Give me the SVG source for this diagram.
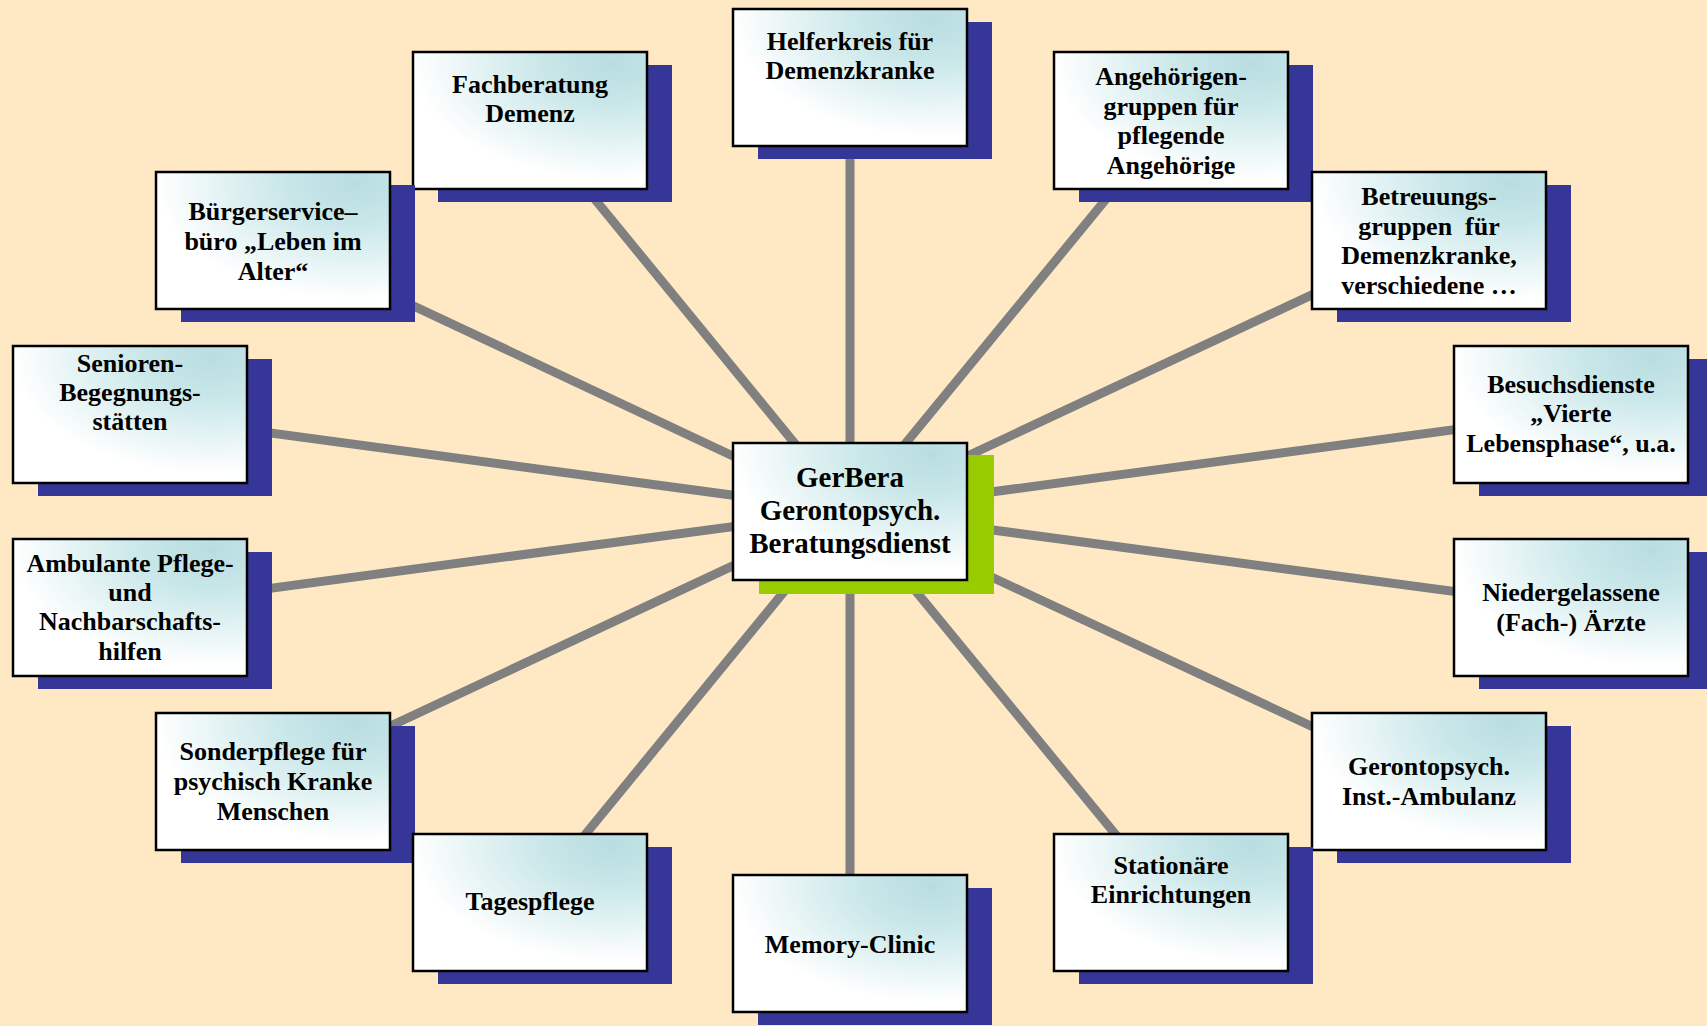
<svg xmlns="http://www.w3.org/2000/svg" width="1707" height="1026" viewBox="0 0 1707 1026">
<defs>
<radialGradient id="g" cx="0.85" cy="0.08" r="0.85" fx="0.85" fy="0.08">
<stop offset="0" stop-color="#b8dde1"/>
<stop offset="0.35" stop-color="#c9e7e9"/>
<stop offset="1" stop-color="#ffffff"/>
</radialGradient>
</defs>
<style>
.sh{fill:#363699}
.shc{fill:#99cc00}
.bx{fill:url(#g);stroke:#000;stroke-width:2.5}
.t{font-family:"Liberation Serif","Times New Roman",serif;font-weight:bold;font-size:26px;fill:#000;text-anchor:middle;white-space:pre}
.tc{font-size:29px}
.ln{stroke:#808080;stroke-width:9;fill:none}
</style>
<rect x="0" y="0" width="1707" height="1026" fill="#ffe9c4"/>
<g id="connectors">
<line class="ln" x1="850" y1="511" x2="530" y2="120"/>
<line class="ln" x1="850" y1="511" x2="850" y2="77"/>
<line class="ln" x1="850" y1="511" x2="1171" y2="120"/>
<line class="ln" x1="850" y1="511" x2="273" y2="240"/>
<line class="ln" x1="850" y1="511" x2="1429" y2="240"/>
<line class="ln" x1="850" y1="511" x2="130" y2="414"/>
<line class="ln" x1="850" y1="511" x2="1571" y2="414"/>
<line class="ln" x1="850" y1="511" x2="130" y2="607"/>
<line class="ln" x1="850" y1="511" x2="1571" y2="607"/>
<line class="ln" x1="850" y1="511" x2="273" y2="781"/>
<line class="ln" x1="850" y1="511" x2="1429" y2="781"/>
<line class="ln" x1="850" y1="511" x2="530" y2="902"/>
<line class="ln" x1="850" y1="511" x2="1171" y2="902"/>
<line class="ln" x1="850" y1="511" x2="850" y2="943"/>
</g>
<g id="n-fachberatung">
<rect class="sh" x="438" y="65" width="234" height="137"/>
<rect class="bx" x="413" y="52" width="234" height="137"/>
<text class="t" x="530" y="93">Fachberatung</text>
<text class="t" x="530" y="122">Demenz</text>
</g>
<g id="n-helferkreis">
<rect class="sh" x="758" y="22" width="234" height="137"/>
<rect class="bx" x="733" y="9" width="234" height="137"/>
<text class="t" x="850" y="50">Helferkreis für</text>
<text class="t" x="850" y="79">Demenzkranke</text>
</g>
<g id="n-angehoerige">
<rect class="sh" x="1079" y="65" width="234" height="137"/>
<rect class="bx" x="1054" y="52" width="234" height="137"/>
<text class="t" x="1171" y="85">Angehörigen-</text>
<text class="t" x="1171" y="115">gruppen für</text>
<text class="t" x="1171" y="144">pflegende</text>
<text class="t" x="1171" y="174">Angehörige</text>
</g>
<g id="n-buergerservice">
<rect class="sh" x="181" y="185" width="234" height="137"/>
<rect class="bx" x="156" y="172" width="234" height="137"/>
<text class="t" x="273" y="220">Bürgerservice–</text>
<text class="t" x="273" y="250">büro „Leben im</text>
<text class="t" x="273" y="280">Alter“</text>
</g>
<g id="n-betreuung">
<rect class="sh" x="1337" y="185" width="234" height="137"/>
<rect class="bx" x="1312" y="172" width="234" height="137"/>
<text class="t" x="1429" y="205">Betreuungs-</text>
<text class="t" x="1429" y="235">gruppen  für</text>
<text class="t" x="1429" y="264">Demenzkranke,</text>
<text class="t" x="1429" y="294">verschiedene …</text>
</g>
<g id="n-senioren">
<rect class="sh" x="38" y="359" width="234" height="137"/>
<rect class="bx" x="13" y="346" width="234" height="137"/>
<text class="t" x="130" y="372">Senioren-</text>
<text class="t" x="130" y="401">Begegnungs-</text>
<text class="t" x="130" y="430">stätten</text>
</g>
<g id="n-besuchsdienste">
<rect class="sh" x="1479" y="359" width="234" height="137"/>
<rect class="bx" x="1454" y="346" width="234" height="137"/>
<text class="t" x="1571" y="393">Besuchsdienste</text>
<text class="t" x="1571" y="422">„Vierte</text>
<text class="t" x="1571" y="452">Lebensphase“, u.a.</text>
</g>
<g id="n-center">
<rect class="shc" x="759" y="455" width="235" height="139"/>
<rect class="bx" x="733" y="443" width="234" height="137"/>
<text class="t tc" x="850" y="487">GerBera</text>
<text class="t tc" x="850" y="520">Gerontopsych.</text>
<text class="t tc" x="850" y="553">Beratungsdienst</text>
</g>
<g id="n-ambulante">
<rect class="sh" x="38" y="552" width="234" height="137"/>
<rect class="bx" x="13" y="539" width="234" height="137"/>
<text class="t" x="130" y="572">Ambulante Pflege-</text>
<text class="t" x="130" y="601">und</text>
<text class="t" x="130" y="630">Nachbarschafts-</text>
<text class="t" x="130" y="660">hilfen</text>
</g>
<g id="n-aerzte">
<rect class="sh" x="1479" y="552" width="234" height="137"/>
<rect class="bx" x="1454" y="539" width="234" height="137"/>
<text class="t" x="1571" y="601">Niedergelassene</text>
<text class="t" x="1571" y="631">(Fach-) Ärzte</text>
</g>
<g id="n-sonderpflege">
<rect class="sh" x="181" y="726" width="234" height="137"/>
<rect class="bx" x="156" y="713" width="234" height="137"/>
<text class="t" x="273" y="760">Sonderpflege für</text>
<text class="t" x="273" y="790">psychisch Kranke</text>
<text class="t" x="273" y="820">Menschen</text>
</g>
<g id="n-ambulanz">
<rect class="sh" x="1337" y="726" width="234" height="137"/>
<rect class="bx" x="1312" y="713" width="234" height="137"/>
<text class="t" x="1429" y="775">Gerontopsych.</text>
<text class="t" x="1429" y="805">Inst.-Ambulanz</text>
</g>
<g id="n-tagespflege">
<rect class="sh" x="438" y="847" width="234" height="137"/>
<rect class="bx" x="413" y="834" width="234" height="137"/>
<text class="t" x="530" y="910">Tagespflege</text>
</g>
<g id="n-stationaer">
<rect class="sh" x="1079" y="847" width="234" height="137"/>
<rect class="bx" x="1054" y="834" width="234" height="137"/>
<text class="t" x="1171" y="874">Stationäre</text>
<text class="t" x="1171" y="903">Einrichtungen</text>
</g>
<g id="n-memory">
<rect class="sh" x="758" y="888" width="234" height="137"/>
<rect class="bx" x="733" y="875" width="234" height="137"/>
<text class="t" x="850" y="953">Memory-Clinic</text>
</g>
</svg>
